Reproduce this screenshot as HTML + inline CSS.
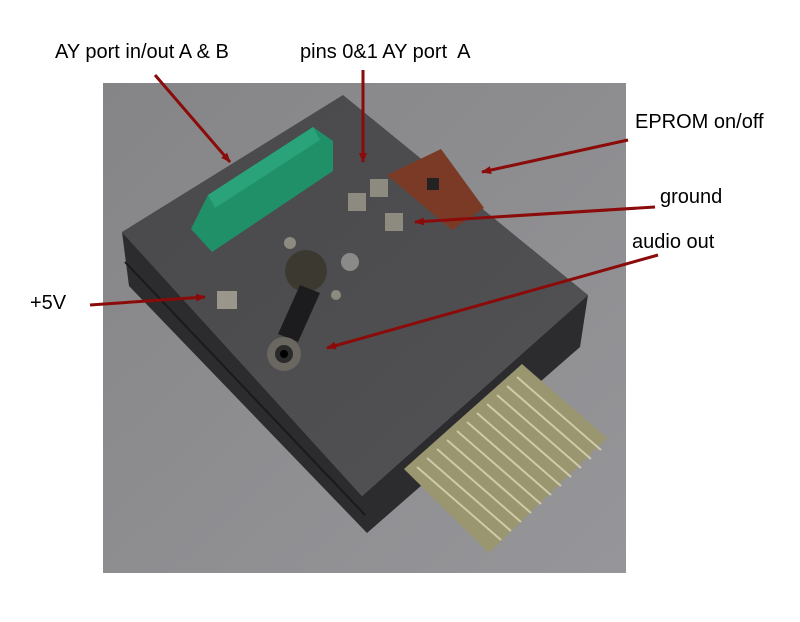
<!DOCTYPE html>
<html><head><meta charset="utf-8"><style>
html,body{margin:0;padding:0;background:#fff;}
svg{display:block}
text{font-family:"Liberation Sans",Arial,sans-serif;font-size:20px;fill:#000}
</style></head><body>
<svg width="800" height="622" viewBox="0 0 800 622" xmlns="http://www.w3.org/2000/svg">
<defs>
<marker id="ah" markerWidth="10" markerHeight="8" refX="9" refY="4" orient="auto" markerUnits="userSpaceOnUse">
<path d="M0,0 L10,4 L0,8 z" fill="#8b0a0a"/></marker>
<linearGradient id="bg" x1="0" y1="0" x2="1" y2="1"><stop offset="0" stop-color="#858587"/><stop offset="1" stop-color="#96969a"/></linearGradient>
<linearGradient id="top" x1="0" y1="0" x2="1" y2="1"><stop offset="0" stop-color="#49494b"/><stop offset="1" stop-color="#525254"/></linearGradient>
</defs>
<rect x="103" y="83" width="523" height="490" fill="url(#bg)"/>
<polygon points="122,232 129,286 367,533 580,347 588,295 362,496" fill="#2c2c2e"/>
<line x1="125" y1="262" x2="365" y2="515" stroke="#1a1a1a" stroke-width="2"/>
<polygon points="122,232 343,95 588,295 362,496" fill="url(#top)"/>
<polygon points="522,364 607,438 489,553 404,469" fill="#9a9670"/>
<g stroke="#cfcba8" stroke-width="2">
<line x1="517" y1="377" x2="601" y2="450"/><line x1="507" y1="386" x2="591" y2="459"/><line x1="497" y1="395" x2="581" y2="468"/>
<line x1="487" y1="404" x2="571" y2="477"/><line x1="477" y1="413" x2="561" y2="486"/><line x1="467" y1="422" x2="551" y2="495"/>
<line x1="457" y1="431" x2="541" y2="504"/><line x1="447" y1="440" x2="531" y2="513"/><line x1="437" y1="449" x2="521" y2="522"/>
<line x1="427" y1="458" x2="511" y2="531"/><line x1="417" y1="467" x2="501" y2="540"/></g>
<polygon points="191,229 208,195 313,127 333,141 333,171 212,252" fill="#1f9068"/>
<polygon points="208,195 313,127 320,140 215,208" fill="#2aa37a"/>
<polygon points="387,175 441,149 484,208 452,230" fill="#7a3a26"/>
<rect x="427" y="178" width="12" height="12" fill="#222"/>
<rect x="348" y="193" width="18" height="18" fill="#8d8a80"/><rect x="370" y="179" width="18" height="18" fill="#8d8a80"/>
<rect x="385" y="213" width="18" height="18" fill="#8d8a80"/><rect x="217" y="291" width="20" height="18" fill="#9a968c"/>
<circle cx="290" cy="243" r="6" fill="#8d8a80"/><circle cx="350" cy="262" r="9" fill="#8a8a88"/><circle cx="336" cy="295" r="5" fill="#8d8a80"/>
<circle cx="306" cy="271" r="21" fill="#3c3a30"/>
<polygon points="300,285 320,293 298,342 278,334" fill="#1c1c1e"/>
<circle cx="284" cy="354" r="17" fill="#6a6660"/><circle cx="284" cy="354" r="9" fill="#2a2a2a"/><circle cx="284" cy="354" r="4" fill="#000"/>
<text x="55" y="58">AY port in/out A &amp; B</text>
<text x="300" y="58" xml:space="preserve">pins 0&amp;1 AY port  A</text>
<text x="635" y="128">EPROM on/off</text>
<text x="660" y="203">ground</text>
<text x="632" y="248">audio out</text>
<text x="30" y="309">+5V</text>
<g stroke="#8b0a0a" stroke-width="3" fill="none" marker-end="url(#ah)">
<line x1="155" y1="75" x2="230" y2="162"/>
<line x1="363" y1="70" x2="363" y2="162"/>
<line x1="628" y1="140" x2="482" y2="172"/>
<line x1="655" y1="207" x2="415" y2="222"/>
<line x1="658" y1="255" x2="327" y2="348"/>
<line x1="90" y1="305" x2="205" y2="297"/>
</g>
</svg>
</body></html>
